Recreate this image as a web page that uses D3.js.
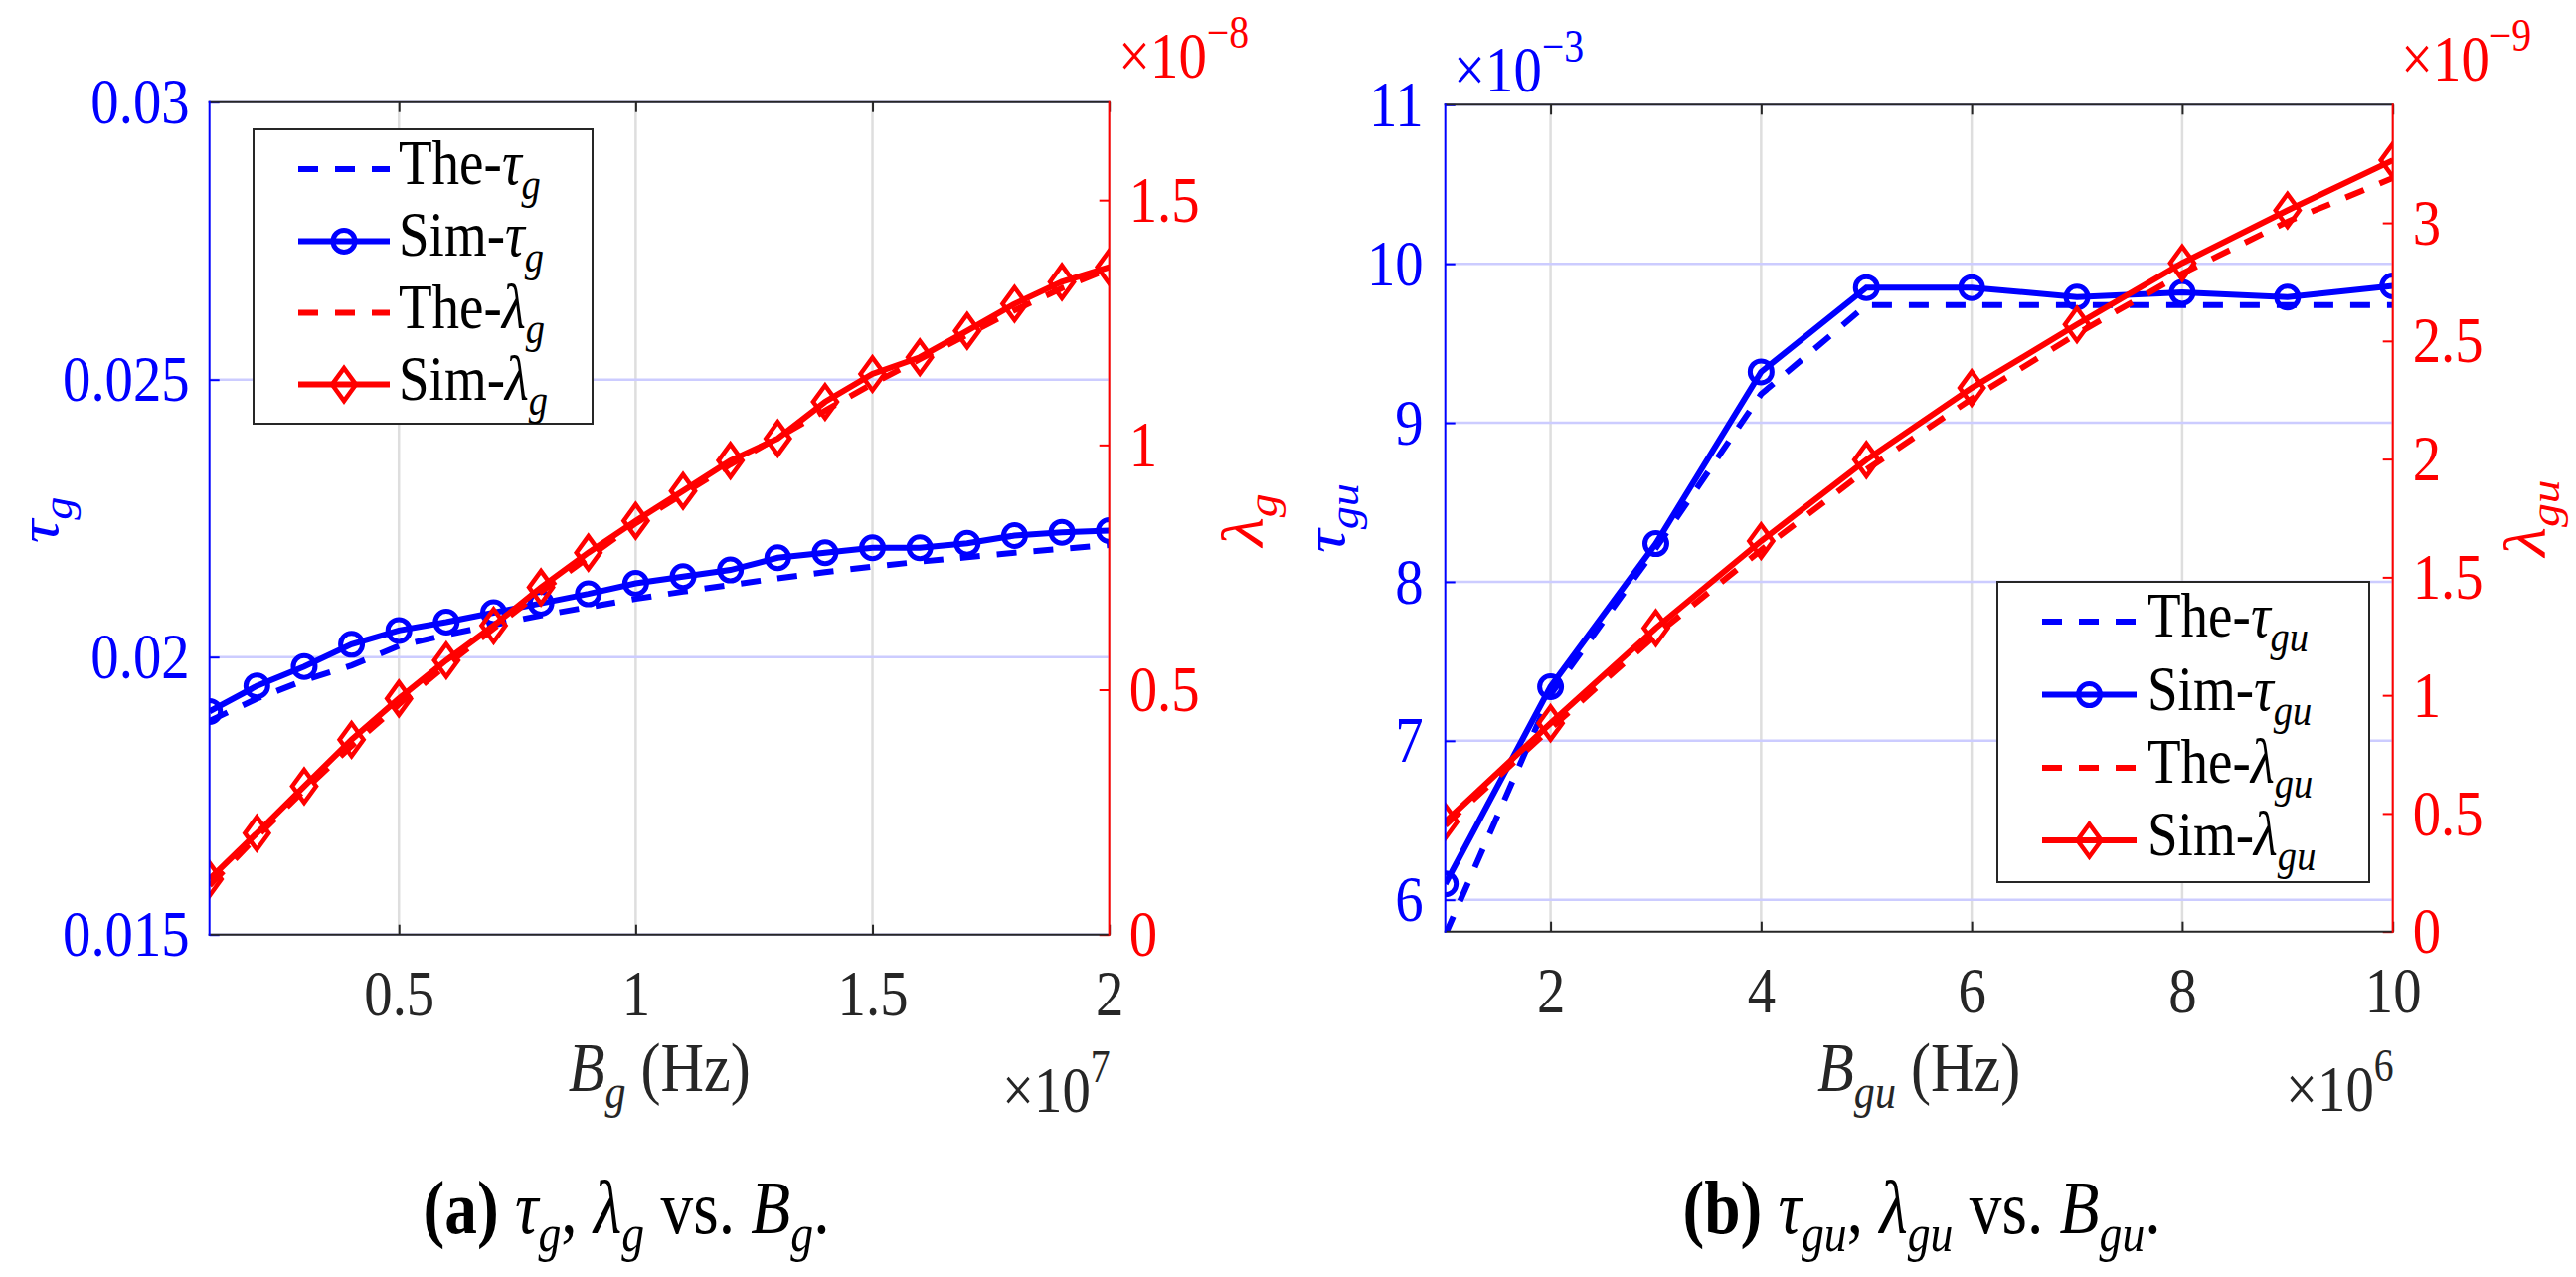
<!DOCTYPE html>
<meta charset="utf-8">
<style>
  body { margin: 0; background: #fff; }
  svg { display: block; background: #fff; }
  text { font-family: "Liberation Serif", "Times New Roman", serif; }
</style>
<svg width="2591" height="1284"></svg>
<script src="https://d3js.org/d3.v7.min.js"></script>
<script>

  var BLUE = "#0000ff", RED = "#ff0000", INK = "#262626";
  var SQX = 0.86; // the original figure's text is horizontally squeezed

  // ---- panel (a): tau_g, lambda_g vs B_g (x in 1e7 Hz, lambda in 1e-8)
  var bgX = [0.1, 0.2, 0.3, 0.4, 0.5, 0.6, 0.7, 0.8, 0.9, 1.0,
             1.1, 1.2, 1.3, 1.4, 1.5, 1.6, 1.7, 1.8, 1.9, 2.0];
  var theTauG = [0.01885, 0.01925, 0.01958, 0.01985, 0.0202, 0.0204, 0.02058, 0.02075, 0.0209, 0.02105,
                 0.02118, 0.0213, 0.02142, 0.02153, 0.02163, 0.02172, 0.0218, 0.02188, 0.02195, 0.02202];
  var simTauG = [0.01902, 0.01948, 0.01983, 0.02023, 0.02048, 0.02063, 0.0208, 0.02097, 0.02114, 0.02133,
                 0.02145, 0.02157, 0.02179, 0.02188, 0.02197, 0.02197, 0.02205, 0.02219, 0.02225, 0.02228];
  var theLamG = [0.10, 0.20, 0.295, 0.385, 0.47, 0.55, 0.625, 0.70, 0.77, 0.84,
                 0.90, 0.96, 1.015, 1.07, 1.125, 1.175, 1.225, 1.275, 1.32, 1.36];
  var simLamG = [0.113, 0.207, 0.303, 0.398, 0.482, 0.56, 0.631, 0.709, 0.78, 0.845,
                 0.906, 0.968, 1.013, 1.088, 1.145, 1.179, 1.233, 1.288, 1.333, 1.363];
  var gXTicks = [0.5, 1, 1.5, 2];
  var gLeftTicks = [0.015, 0.02, 0.025, 0.03];
  var gRightTicks = [0, 0.5, 1, 1.5];

  // ---- panel (b): tau_gu (1e-3), lambda_gu (1e-9) vs B_gu (1e6 Hz)
  var bguX = [1, 2, 3, 4, 5, 6, 7, 8, 9, 10];
  var theTauGu = [5.78, 7.29, 8.21, 9.18, 9.74, 9.74, 9.74, 9.74, 9.74, 9.74];
  var simTauGu = [6.1, 7.34, 8.24, 9.32, 9.85, 9.85, 9.79, 9.82, 9.79, 9.86];
  var theLamGu = [0.45, 0.86, 1.255, 1.615, 1.955, 2.255, 2.53, 2.785, 3.005, 3.19];
  var simLamGu = [0.465, 0.882, 1.285, 1.653, 1.997, 2.301, 2.57, 2.83, 3.053, 3.265];
  var guXTicks = [2, 4, 6, 8, 10];
  var guLeftTicks = [6, 7, 8, 9, 10, 11];
  var guRightTicks = [0, 0.5, 1, 1.5, 2, 2.5, 3];

  var svg = d3.select("svg");

  // text built from pieces [string, kind]: n normal, i italic, s subscript, e superscript, b bold
  function mathText(t, parts, fs) {
    var shift = 0;
    parts.forEach(function (p) {
      var kind = p[1], target = 0, size = fs;
      if (kind === "s") { target = 0.24 * fs; size = 0.7 * fs; }
      if (kind === "e") { target = -0.45 * fs; size = 0.7 * fs; }
      var ts = t.append("tspan")
        .attr("dy", target - shift)
        .style("font-size", size + "px")
        .text(p[0]);
      if (kind === "i" || kind === "s") ts.style("font-style", "italic");
      if (kind === "b") ts.style("font-weight", "bold");
      shift = target;
    });
    return t;
  }

  // a squeezed text anchored at (x, y), optionally rotated
  function label(parent, x, y, anchor, color, parts, fs, rot) {
    var t = parent.append("g")
      .attr("transform", "translate(" + x + "," + y + ") scale(" + SQX + ",1)" + (rot ? " rotate(" + rot + ")" : ""))
      .append("text")
      .attr("text-anchor", anchor)
      .attr("fill", color);
    return mathText(t, parts, fs);
  }

  function drawMarker(sel, cx, cy, type, color) {
    if (type === "o") {
      sel.append("circle").attr("cx", cx).attr("cy", cy).attr("r", 11)
        .attr("fill", "none").attr("stroke", color).attr("stroke-width", 5);
    } else if (type === "d") {
      sel.append("path")
        .attr("transform", "translate(" + cx + "," + cy + ")")
        .attr("d", "M0,-16.5L12,0L0,16.5L-12,0Z")
        .attr("fill", "none").attr("stroke", color).attr("stroke-width", 4.5);
    }
  }

  function styleAxis(ax, color) {
    ax.select(".domain").remove();
    ax.attr("font-family", '"Liberation Serif", "Times New Roman", serif').attr("font-size", 66);
    ax.selectAll("line").attr("stroke", color).attr("stroke-width", 2);
    ax.selectAll("text").attr("fill", color).attr("transform", "scale(" + SQX + ",1)");
  }

  function drawPanel(p) {
    var x = d3.scaleLinear().domain(p.xDomain).range([p.left, p.right]);
    var yL = d3.scaleLinear().domain(p.yLDomain).range([p.bottom, p.top]);
    var yR = d3.scaleLinear().domain(p.yRDomain).range([p.bottom, p.top]);
    var g = svg.append("g");

    // grid lines
    g.selectAll(null).data(p.xTicks).enter().append("line")
      .attr("x1", x).attr("x2", x).attr("y1", p.top).attr("y2", p.bottom)
      .attr("stroke", "#dedede").attr("stroke-width", 2.5);
    g.selectAll(null).data(p.yLTicks).enter().append("line")
      .attr("x1", p.left).attr("x2", p.right).attr("y1", yL).attr("y2", yL)
      .attr("stroke", "#ccccff").attr("stroke-width", 2.5);

    // clipped data area
    var clipId = "clip-" + p.id;
    svg.append("clipPath").attr("id", clipId).append("rect")
      .attr("x", p.left).attr("y", p.top)
      .attr("width", p.right - p.left).attr("height", p.bottom - p.top);
    var plot = g.append("g").attr("clip-path", "url(#" + clipId + ")");

    p.series.forEach(function (s) {
      var ys = s.axis === "L" ? yL : yR;
      var pts = p.xs.map(function (d, i) { return [x(d), ys(s.values[i])]; });
      plot.append("path")
        .attr("d", d3.line()(pts))
        .attr("fill", "none")
        .attr("stroke", s.color)
        .attr("stroke-width", 6)
        .attr("stroke-dasharray", s.dashed ? "20,17" : null);
      if (s.marker) pts.forEach(function (q) { drawMarker(plot, q[0], q[1], s.marker, s.color); });
    });

    // axes, ticks inward
    var fmt = d3.format("~g");
    var axB = g.append("g").attr("transform", "translate(0," + p.bottom + ")")
      .call(d3.axisBottom(x).tickValues(p.xTicks).tickSizeInner(-10).tickSizeOuter(0).tickPadding(34).tickFormat(fmt));
    styleAxis(axB, INK);
    var axT = g.append("g").attr("transform", "translate(0," + p.top + ")")
      .call(d3.axisTop(x).tickValues(p.xTicks).tickSizeInner(-10).tickSizeOuter(0).tickFormat(""));
    styleAxis(axT, INK);
    var axL = g.append("g").attr("transform", "translate(" + p.left + ",0)")
      .call(d3.axisLeft(yL).tickValues(p.yLTicks).tickSizeInner(-10).tickSizeOuter(0).tickPadding(p.padL / SQX).tickFormat(fmt));
    styleAxis(axL, BLUE);
    var axR = g.append("g").attr("transform", "translate(" + p.right + ",0)")
      .call(d3.axisRight(yR).tickValues(p.yRTicks).tickSizeInner(-10).tickSizeOuter(0).tickPadding(20 / SQX).tickFormat(fmt));
    styleAxis(axR, RED);

    // box
    var edges = [
      [p.left, p.top, p.right, p.top, INK],
      [p.left, p.bottom, p.right, p.bottom, INK],
      [p.left, p.top, p.left, p.bottom, BLUE],
      [p.right, p.top, p.right, p.bottom, RED]
    ];
    g.selectAll(null).data(edges).enter().append("line")
      .attr("x1", function (d) { return d[0]; }).attr("y1", function (d) { return d[1]; })
      .attr("x2", function (d) { return d[2]; }).attr("y2", function (d) { return d[3]; })
      .attr("stroke", function (d) { return d[4]; }).attr("stroke-width", 2)
      .attr("stroke-linecap", "square");

    // x label and multiplier
    label(g, (p.left + p.right) / 2, 1097, "middle", INK, p.xLabel, 70);
    label(g, p.right + 1, p.xExpY, "end", INK, [["\u00d710", "n"], [p.xExp, "e"]], 66);

    // y labels
    label(g, p.yLLabelX, p.yLabelY, "middle", BLUE, p.yLLabel, 66, -90);
    label(g, p.yRLabelX, p.yLabelY, "middle", RED, p.yRLabel, 68, -90);

    // multipliers at the top
    p.topExp.forEach(function (e) {
      label(g, e.x, e.y, "start", e.color, [["\u00d710", "n"], ["\u2212" + e.exp, "e"]], 66);
    });

    // legend
    var L = p.legend;
    g.append("rect").attr("x", L.x).attr("y", L.y).attr("width", L.w).attr("height", L.h)
      .attr("fill", "#fff").attr("stroke", INK).attr("stroke-width", 2);
    p.series.forEach(function (s, i) {
      var cy = L.rows[i];
      g.append("line").attr("x1", L.s0).attr("x2", L.s1).attr("y1", cy).attr("y2", cy)
        .attr("stroke", s.color).attr("stroke-width", 6)
        .attr("stroke-dasharray", s.dashed ? "20,17" : null);
      if (s.marker) drawMarker(g, (L.s0 + L.s1) / 2, cy, s.marker, s.color);
      label(g, L.tx, cy + 15, "start", "#000", s.label, 64);
    });

    // caption
    label(g, p.capX, 1240, "middle", "#000", p.caption, 76);
  }

  drawPanel({
    id: "a",
    left: 210.7, right: 1115.7, top: 102.7, bottom: 939.7,
    xs: bgX, xDomain: [0.1, 2], yLDomain: [0.015, 0.03], yRDomain: [0, 1.7],
    xTicks: gXTicks, yLTicks: gLeftTicks, yRTicks: gRightTicks, padL: 20,
    series: [
      { values: theTauG, axis: "L", color: BLUE, dashed: true, marker: null, label: [["The-", "n"], ["\u03c4", "i"], ["g", "s"]] },
      { values: simTauG, axis: "L", color: BLUE, dashed: false, marker: "o", label: [["Sim-", "n"], ["\u03c4", "i"], ["g", "s"]] },
      { values: theLamG, axis: "R", color: RED, dashed: true, marker: null, label: [["The-", "n"], ["\u03bb", "i"], ["g", "s"]] },
      { values: simLamG, axis: "R", color: RED, dashed: false, marker: "d", label: [["Sim-", "n"], ["\u03bb", "i"], ["g", "s"]] }
    ],
    xLabel: [["B", "i"], ["g", "s"], ["\u00a0(Hz)", "n"]],
    xExp: "7", xExpY: 1118,
    yLLabel: [["\u03c4", "i"], ["g", "s"]], yLLabelX: 58,
    yRLabel: [["\u03bb", "i"], ["g", "s"]], yRLabelX: 1270, yLabelY: 523,
    topExp: [{ x: 1125, y: 78, exp: "8", color: RED }],
    legend: { x: 255, y: 130, w: 341, h: 296, s0: 300, s1: 392, tx: 401, rows: [170, 242.4, 314.5, 386.6] },
    caption: [["(a)", "b"], ["\u00a0", "n"], ["\u03c4", "i"], ["g", "s"], [", ", "n"], ["\u03bb", "i"], ["g", "s"],
              ["\u00a0vs.\u00a0", "n"], ["B", "i"], ["g", "s"], [".", "n"]],
    capX: 630
  });

  drawPanel({
    id: "b",
    left: 1453.7, right: 2406.7, top: 105.3, bottom: 936.7,
    xs: bguX, xDomain: [1, 10], yLDomain: [5.8, 11], yRDomain: [0, 3.5],
    xTicks: guXTicks, yLTicks: guLeftTicks, yRTicks: guRightTicks, padL: 22,
    series: [
      { values: theTauGu, axis: "L", color: BLUE, dashed: true, marker: null, label: [["The-", "n"], ["\u03c4", "i"], ["gu", "s"]] },
      { values: simTauGu, axis: "L", color: BLUE, dashed: false, marker: "o", label: [["Sim-", "n"], ["\u03c4", "i"], ["gu", "s"]] },
      { values: theLamGu, axis: "R", color: RED, dashed: true, marker: null, label: [["The-", "n"], ["\u03bb", "i"], ["gu", "s"]] },
      { values: simLamGu, axis: "R", color: RED, dashed: false, marker: "d", label: [["Sim-", "n"], ["\u03bb", "i"], ["gu", "s"]] }
    ],
    xLabel: [["B", "i"], ["gu", "s"], ["\u00a0(Hz)", "n"]],
    xExp: "6", xExpY: 1117,
    yLLabel: [["\u03c4", "i"], ["gu", "s"]], yLLabelX: 1352,
    yRLabel: [["\u03bb", "i"], ["gu", "s"]], yRLabelX: 2560, yLabelY: 521,
    topExp: [{ x: 1462, y: 92, exp: "3", color: BLUE }, { x: 2415, y: 81, exp: "9", color: RED }],
    legend: { x: 2009, y: 585, w: 374, h: 302, s0: 2054, s1: 2149, tx: 2160, rows: [625, 698.6, 772, 845] },
    caption: [["(b)", "b"], ["\u00a0", "n"], ["\u03c4", "i"], ["gu", "s"], [", ", "n"], ["\u03bb", "i"], ["gu", "s"],
              ["\u00a0vs.\u00a0", "n"], ["B", "i"], ["gu", "s"], [".", "n"]],
    capX: 1933
  });

</script>
